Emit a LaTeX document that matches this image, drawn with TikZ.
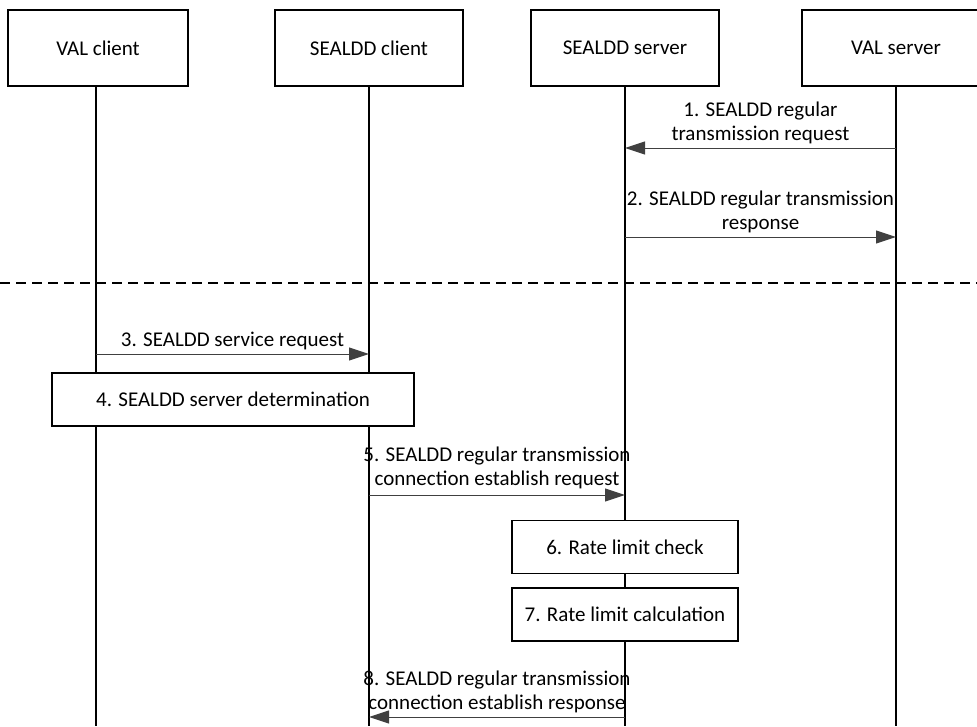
\documentclass[tikz,border=0pt]{standalone}
\usepackage{fontspec}
\setmainfont{Carlito}
\usetikzlibrary{arrows.meta}

\tikzset{
    entity/.style={draw, line width=1.2pt, minimum width=188pt, minimum height=76pt, inner sep=0pt},
    action/.style={draw, fill=white, line width=1.2pt, minimum height=53pt, inner sep=0pt},
    lifeline/.style={line width=1.2pt},
    msg/.style={draw=black!75, line width=1pt, -{Triangle[length=20pt,width=13pt,fill=black!75]}},
    msglabel/.style={above, align=center, inner sep=4pt},
    separator/.style={line width=1.2pt, dash pattern=on 10pt off 6pt}
}

\begin{document}
\begin{tikzpicture}[x=1pt, y=-1pt, font=\fontsize{21}{24}\selectfont]
    \useasboundingbox (0,0) rectangle (977,726);

    % participants
    \node[entity, minimum width=180pt] (valc) at (98,48) {VAL client};
    \node[entity] (seac) at (369,48) {SEALDD client};
    \node[entity] (seas) at (625,48) {SEALDD server};
    \node[entity] (vals) at (896,48) {VAL server};

    \coordinate (valcend) at (96,726);
    \coordinate (seacend) at (369,726);
    \coordinate (seasend) at (625,726);
    \coordinate (valsend) at (896,726);

    \draw[lifeline] (valc.south -| valcend) -- (valcend);
    \draw[lifeline] (seac.south) -- (seacend);
    \draw[lifeline] (seas.south) -- (seasend);
    \draw[lifeline] (vals.south) -- (valsend);

    % message end points
    \coordinate (m1a) at (896,148);
    \coordinate (m1b) at (625,148);
    \coordinate (m2a) at (625,237);
    \coordinate (m2b) at (896,237);
    \coordinate (m3a) at (96,354);
    \coordinate (m3b) at (369,354);
    \coordinate (m5a) at (369,495);
    \coordinate (m5b) at (625,495);
    \coordinate (m8a) at (625,717);
    \coordinate (m8b) at (369,717);

    \coordinate (sepl) at (0,283);
    \coordinate (sepr) at (977,283);

    \draw[msg] (m1a) -- node[msglabel] {1. SEALDD regular\\transmission request} (m1b);
    \draw[msg] (m2a) -- node[msglabel] {2. SEALDD regular transmission\\response} (m2b);

    \draw[separator] (sepl) -- (sepr);

    \draw[msg] (m3a) -- node[msglabel] {3. SEALDD service request} (m3b);
    \node[action, minimum width=362pt] (det) at (233,399.5) {4. SEALDD server determination};

    \draw[msg] (m5a) -- node[msglabel, inner sep=6pt] {5. SEALDD regular transmission\\connection establish request} (m5b);

    \node[action, minimum width=226pt] (check) at (625,547) {6. Rate limit check};
    \node[action, minimum width=226pt] (calc) at (625,614.5) {7. Rate limit calculation};

    \draw[msg] (m8a) -- node[msglabel] {8. SEALDD regular transmission\\connection establish response} (m8b);
\end{tikzpicture}
\end{document}
